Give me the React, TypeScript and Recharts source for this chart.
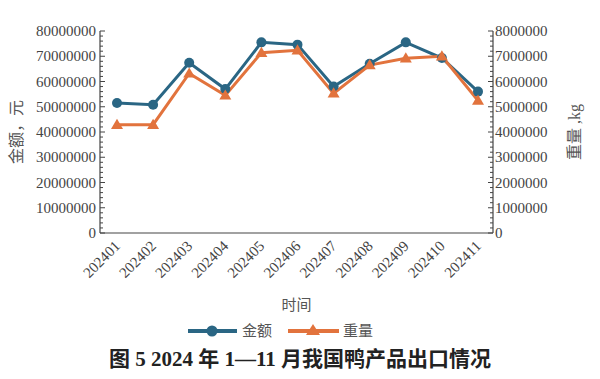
import React from 'react';
import { LineChart, Line, XAxis, YAxis } from 'recharts';

const months = ['202401', '202402', '202403', '202404', '202405', '202406', '202407', '202408', '202409', '202410', '202411'];
const amount = [51500000, 50800000, 67400000, 57000000, 75500000, 74600000, 58000000, 67000000, 75500000, 69300000, 56000000];
const weight = [4290000, 4290000, 6320000, 5450000, 7140000, 7240000, 5530000, 6650000, 6920000, 7000000, 5250000];
const leftTicks = [0, 10000000, 20000000, 30000000, 40000000, 50000000, 60000000, 70000000, 80000000];
const rightTicks = [0, 1000000, 2000000, 3000000, 4000000, 5000000, 6000000, 7000000, 8000000];

const data = months.map((m, i) => ({ month: m, amount: amount[i], weight: weight[i] }));

const BLUE = '#2a6684';
const ORANGE = '#e2733d';
const AXIS = '#444';
const SERIF = '"Liberation Serif", "DejaVu Serif", serif';
const CJK = '"Liberation Serif", "Noto Sans CJK SC", serif';

const minorOf = (major: number[]) => {
  const out: number[] = [];
  for (let i = 0; i < major.length - 1; i++) {
    const step = (major[i + 1] - major[i]) / 5;
    for (let k = 0; k < 5; k++) out.push(major[i] + step * k);
  }
  out.push(major[major.length - 1]);
  return out;
};

const LeftTick = (props: any) => {
  const { x, y, payload } = props;
  const isMajor = leftTicks.includes(payload.value);
  return (
    <g>
      <line x1={x} y1={y} x2={x + (isMajor ? 5 : 3)} y2={y} stroke={AXIS} strokeWidth={1} />
      {isMajor && (
        <text x={x - 4} y={y} dy={5} textAnchor="end" fontFamily={SERIF} fontSize={15} fill="#444">
          {payload.value}
        </text>
      )}
    </g>
  );
};

const RightTick = (props: any) => {
  const { x, y, payload } = props;
  const isMajor = rightTicks.includes(payload.value);
  return (
    <g>
      <line x1={x} y1={y} x2={x - (isMajor ? 5 : 3)} y2={y} stroke={AXIS} strokeWidth={1} />
      {isMajor && (
        <text x={x + 2} y={y} dy={5} textAnchor="start" fontFamily={SERIF} fontSize={15} fill="#444">
          {payload.value}
        </text>
      )}
    </g>
  );
};

const XTick = (props: any) => {
  const { x, y, payload } = props;
  const ax = x + 4;
  const ay = y + 14;
  return (
    <text x={ax} y={ay} transform={`rotate(-45, ${ax}, ${ay})`} textAnchor="end" fontFamily={SERIF} fontSize={15} fill="#444">
      {payload.value}
    </text>
  );
};

const Triangle = (props: any) => {
  const { cx, cy } = props;
  if (cx == null || cy == null) return null;
  const s = 6;
  return <polygon points={`${cx},${cy - s} ${cx - s},${cy + s * 0.7} ${cx + s},${cy + s * 0.7}`} fill={ORANGE} />;
};

const LegendBox = () => (
  <svg width={600} height={24} style={{ position: 'absolute', left: 0, top: 319 }}>
    <line x1={188} y1={12} x2={237} y2={12} stroke={BLUE} strokeWidth={4} />
    <circle cx={212} cy={12} r={5.5} fill={BLUE} />
    <text x={242} y={17} fontFamily={CJK} fontSize={15} fill="#555">金额</text>
    <line x1={288} y1={12} x2={339} y2={12} stroke={ORANGE} strokeWidth={4} />
    <polygon points="313,5 306,16 320,16" fill={ORANGE} />
    <text x={343} y={17} fontFamily={CJK} fontSize={15} fill="#555">重量</text>
  </svg>
);

export default function App() {
  return (
    <div style={{ position: 'absolute', left: 0, top: 0, width: 600, height: 379, background: '#fff' }}>
      <LineChart width={600} height={379} data={data} margin={{ top: 31, right: 0, bottom: 0, left: 0 }}>
        <XAxis
          dataKey="month"
          axisLine={{ stroke: AXIS, strokeWidth: 1.2 }}
          tickLine={false}
          tickSize={0}
          tickMargin={0}
          tick={<XTick />}
          interval={0}
          padding={{ left: 17, right: 15 }}
          height={146}
          label={{ value: '时间', position: 'insideTop', offset: 66, style: { fontFamily: CJK, fontSize: 15, fill: '#555' } }}
        />
        <YAxis
          yAxisId="left"
          orientation="left"
          width={100}
          domain={[0, 80000000]}
          ticks={minorOf(leftTicks)}
          interval={0}
          tickSize={0}
          tickMargin={0}
          tickLine={false}
          axisLine={{ stroke: AXIS, strokeWidth: 1.2 }}
          tick={<LeftTick />}
          label={{ value: '金额，元', angle: -90, position: 'insideLeft', offset: 16, style: { fontFamily: CJK, fontSize: 16, fill: '#555', textAnchor: 'middle' } }}
        />
        <YAxis
          yAxisId="right"
          orientation="right"
          width={107}
          domain={[0, 8000000]}
          ticks={minorOf(rightTicks)}
          interval={0}
          tickSize={0}
          tickMargin={0}
          tickLine={false}
          axisLine={{ stroke: AXIS, strokeWidth: 1.2 }}
          tick={<RightTick />}
          label={{ value: '重量 ,kg', angle: -90, position: 'insideRight', offset: 26, style: { fontFamily: CJK, fontSize: 16, fill: '#555', textAnchor: 'middle' } }}
        />
        <Line
          yAxisId="left"
          type="linear"
          dataKey="amount"
          stroke={BLUE}
          strokeWidth={3}
          dot={{ r: 5, fill: BLUE, stroke: BLUE, strokeWidth: 0 }}
          isAnimationActive={false}
        />
        <Line
          yAxisId="right"
          type="linear"
          dataKey="weight"
          stroke={ORANGE}
          strokeWidth={3}
          dot={<Triangle />}
          isAnimationActive={false}
        />
      </LineChart>
      <LegendBox />
      <div
        style={{
          position: 'absolute',
          top: 342,
          left: 0,
          width: 600,
          textAlign: 'center',
          fontFamily: CJK,
          fontWeight: 'bold',
          fontSize: 21,
          color: '#222',
        }}
      >
        图 5 2024 年 1—11 月我国鸭产品出口情况
      </div>
    </div>
  );
}
